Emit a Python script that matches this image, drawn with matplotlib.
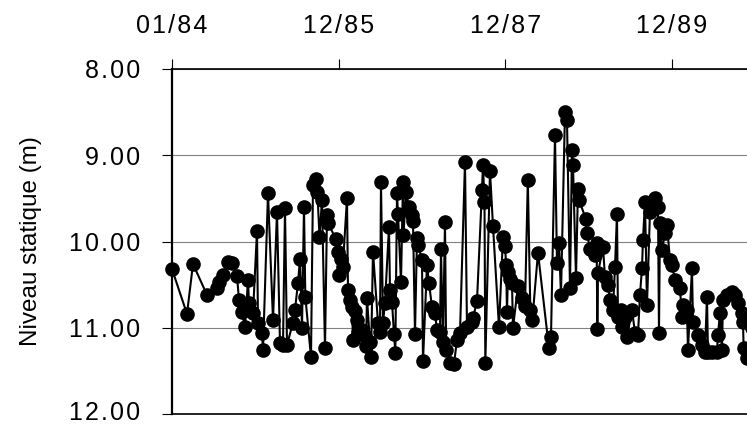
import matplotlib
matplotlib.use("Agg")
import matplotlib.pyplot as plt
from matplotlib.transforms import ScaledTranslation

# decimal years of measurements
dates = [
    1984.000, 1984.180, 1984.252, 1984.420, 1984.540, 1984.564, 1984.612, 1984.672,
    1984.720, 1984.780, 1984.804, 1984.840, 1984.876, 1984.912, 1984.924, 1984.972,
    1985.020, 1985.032, 1985.080, 1985.092, 1985.152, 1985.212, 1985.260, 1985.296,
    1985.332, 1985.356, 1985.380, 1985.452, 1985.476, 1985.512, 1985.536, 1985.560,
    1985.584, 1985.600, 1985.668, 1985.692, 1985.728, 1985.745, 1985.770, 1985.800,
    1985.836, 1985.860, 1985.872, 1985.968, 1985.992, 1986.004, 1986.030, 1986.050,
    1986.100, 1986.112, 1986.136, 1986.160, 1986.172, 1986.196, 1986.220, 1986.232,
    1986.280, 1986.316, 1986.328, 1986.340, 1986.376, 1986.388, 1986.412, 1986.472,
    1986.496, 1986.508, 1986.532, 1986.556, 1986.604, 1986.616, 1986.640, 1986.664,
    1986.680, 1986.700, 1986.712, 1986.748, 1986.772, 1986.778, 1986.808, 1986.844,
    1986.880, 1986.892, 1986.916, 1986.940, 1986.952, 1987.000, 1987.012, 1987.060,
    1987.084, 1987.120, 1987.156, 1987.180, 1987.216, 1987.228, 1987.252, 1987.276,
    1987.290, 1987.336, 1987.384, 1987.420, 1987.456, 1987.516, 1987.540, 1987.600,
    1987.612, 1987.660, 1987.720, 1987.732, 1987.750, 1987.760, 1987.816, 1987.852,
    1987.924, 1987.972, 1987.996, 1988.010, 1988.020, 1988.032, 1988.056, 1988.080,
    1988.092, 1988.152, 1988.200, 1988.236, 1988.270, 1988.300, 1988.324, 1988.392,
    1988.524, 1988.548, 1988.596, 1988.620, 1988.644, 1988.668, 1988.716, 1988.740,
    1988.776, 1988.800, 1988.812, 1988.848, 1988.872, 1988.884, 1988.968, 1988.980,
    1989.016, 1989.076, 1989.096, 1989.104, 1989.112, 1989.172, 1989.196, 1989.232,
    1989.256, 1989.292, 1989.316, 1989.340, 1989.352, 1989.390, 1989.400, 1989.440,
    1989.460, 1989.520, 1989.556, 1989.592, 1989.616, 1989.640, 1989.652, 1989.676,
    1989.700, 1989.736, 1989.796, 1989.832, 1989.844, 1989.856, 1989.880, 1989.916,
    1989.940, 1989.976, 1990.000, 1990.036, 1990.096, 1990.120, 1990.132, 1990.180,
    1990.192, 1990.240, 1990.252, 1990.312, 1990.360, 1990.396, 1990.420, 1990.432,
    1990.480, 1990.540, 1990.552, 1990.576, 1990.600, 1990.612, 1990.660, 1990.720,
    1990.756, 1990.792, 1990.840, 1990.852, 1990.860, 1990.900, 1990.960,
]

# static water level (m below reference)
level = [
    10.32, 10.84, 10.26, 10.62, 10.54, 10.47, 10.39, 10.24,
    10.25, 10.40, 10.68, 10.82, 10.99, 10.45, 10.71, 10.83,
    9.88, 10.94, 11.06, 11.26, 9.44, 10.91, 9.66, 11.18,
    11.20, 9.61, 11.20, 10.94, 10.79, 10.48, 10.20, 11.00,
    9.60, 10.64, 11.34, 9.35, 9.28, 9.43, 9.95, 9.52,
    11.24, 9.69, 9.79, 9.97, 10.12, 10.39, 10.20, 10.29,
    9.50, 10.56, 10.68, 10.76, 11.14, 10.80, 10.91, 11.05,
    11.03, 11.10, 11.21, 10.66, 11.17, 11.34, 10.12, 10.94,
    11.05, 9.31, 10.94, 10.71, 9.83, 10.56, 10.70, 11.07,
    11.29, 9.44, 9.68, 10.47, 9.31, 9.92, 9.43, 9.60,
    9.69, 9.76, 11.07, 9.96, 10.04, 10.21, 11.39, 10.27,
    10.48, 10.76, 10.83, 11.03, 11.05, 10.09, 11.17, 9.77,
    11.26, 11.41, 11.42, 11.14, 11.06, 9.08, 10.99, 10.93,
    10.89, 10.69, 9.40, 9.11, 9.54, 11.41, 9.18, 9.82,
    10.99, 9.95, 10.05, 10.27, 10.82, 10.35, 10.44, 10.48,
    11.00, 10.52, 10.66, 10.75, 9.29, 10.79, 10.91, 10.13,
    11.24, 11.11, 8.77, 10.25, 10.02, 10.62, 8.50, 8.59,
    10.54, 8.94, 9.11, 10.42, 9.39, 9.52, 9.74, 9.90,
    10.09, 10.16, 10.02, 11.01, 10.37, 10.06, 10.41, 10.50,
    10.68, 10.79, 10.30, 9.68, 10.88, 10.79, 10.99, 10.88,
    11.11, 10.79, 11.06, 11.08, 10.62, 10.31, 9.98, 9.54,
    10.74, 9.66, 9.50, 9.60, 11.06, 9.79, 10.10, 9.90,
    9.81, 10.21, 10.27, 10.45, 10.54, 10.88, 10.74, 10.79,
    11.26, 10.31, 10.93, 11.08, 11.20, 11.28, 10.64, 11.28,
    11.28, 11.28, 11.08, 10.83, 11.26, 10.68, 10.62, 10.59,
    10.62, 10.71, 10.83, 10.93, 11.24, 11.35, 11.00,
]

tick_pos = [1984.0, 1986.0, 1988.0, 1990.0]
tick_labels = ["01/84", "12/85", "12/87", "12/89"]
y_ticks = [8.0, 9.0, 10.0, 11.0, 12.0]
y_label = "Niveau statique (m)"

plt.rcParams['font.family'] = ['Liberation Sans', 'DejaVu Sans']

HS = "\u200a"


def spaced(s):
    return HS.join(s)


fig = plt.figure(figsize=(7.47, 4.26), dpi=100)
ax = fig.add_axes([172/747, 1-414/426, 1-172/747, 345/426])

ax.plot(dates, level, color='black', lw=1.5, marker='o', ms=9.5,
        mfc='black', mec='black', clip_on=False, zorder=3)

ax.set_xlim(1984.0, 1984.0 + 575/83.33)
ax.set_ylim(12.0, 8.0)
ax.set_yticks(y_ticks)
ax.set_yticklabels([spaced(f"{v:.2f}") for v in y_ticks])
ax.xaxis.tick_top()
ax.set_xticks(tick_pos)
ax.set_xticklabels([spaced(t) for t in tick_labels])

ax.grid(axis='y', color='#808080', lw=0.8, zorder=1)
ax.set_axisbelow(True)

ax.tick_params(axis='x', direction='out', length=7.2, width=0.8, pad=15,
               labelsize=18, colors='black')
ax.tick_params(axis='y', direction='out', length=7.2, width=0.8, pad=16,
               labelsize=18, colors='black')

# nudge the bottom label slightly up, as in the reference
lbl = ax.get_yticklabels()[-1]
lbl.set_transform(lbl.get_transform() + ScaledTranslation(0, 3/100, fig.dpi_scale_trans))

for s in ['top', 'bottom']:
    ax.spines[s].set_linewidth(1.2)
    ax.spines[s].set_color('black')
ax.spines['left'].set_linewidth(1.6)
ax.spines['left'].set_color('black')
ax.spines['right'].set_visible(False)

fig.text(31/747, 1-241/426, y_label, rotation=90, ha='center', va='center',
         fontsize=17.5, color='black')

fig.savefig("out.png", dpi=100)
